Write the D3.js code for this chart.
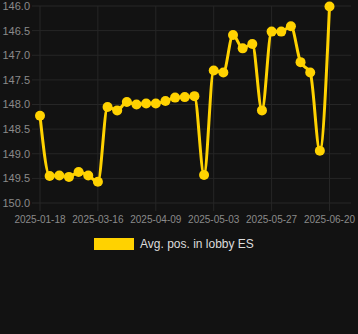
<!DOCTYPE html>
<html>
<head>
<meta charset="utf-8">
<script src="https://cdn.jsdelivr.net/npm/d3@7"></script>
<style>
  html, body { margin: 0; padding: 0; background: #121212; }
  svg { display: block; font-family: "Liberation Sans", Arial, sans-serif; }
</style>
</head>
<body>
<svg id="chart" width="358" height="334"></svg>
<script>
// dates on the category axis
const dates = [
  '2025-01-18', '2025-02-23', '2025-02-27', '2025-03-03', '2025-03-07', '2025-03-12',
  '2025-03-16', '2025-03-20', '2025-03-24', '2025-03-28', '2025-04-01', '2025-04-05',
  '2025-04-09', '2025-04-13', '2025-04-17', '2025-04-21', '2025-04-25', '2025-04-29',
  '2025-05-03', '2025-05-07', '2025-05-11', '2025-05-15', '2025-05-19', '2025-05-23',
  '2025-05-27', '2025-05-31', '2025-06-04', '2025-06-08', '2025-06-12', '2025-06-16',
  '2025-06-20'
];
const avgPos = [
  148.23, 149.45, 149.44, 149.47, 149.37, 149.44,
  149.57, 148.05, 148.12, 147.95, 148.00, 147.98,
  147.98, 147.93, 147.86, 147.85, 147.83, 149.43,
  147.31, 147.35, 146.59, 146.86, 146.77, 148.12,
  146.52, 146.52, 146.41, 147.14, 147.35, 148.94,
  146.01
];
const yTicks = [146.0, 146.5, 147.0, 147.5, 148.0, 148.5, 149.0, 149.5, 150.0];
const xTickEvery = 6;
const seriesName = 'Avg. pos. in lobby ES';

const lineColor = '#ffd200';
const gridColor = '#262626';
const tickColor = '#8a8a8a';

const svg = d3.select('#chart');
const area = { left: 40, right: 351, top: 6, bottom: 203 };

// two empty slots remain on the right of the category axis
const x = d3.scaleLinear().domain([0, dates.length + 1]).range([area.left, area.left + 9.65 * (dates.length + 1)]);
const y = d3.scaleLinear().domain([146, 150]).range([area.top, area.bottom]);

const grid = svg.append('g');
grid.selectAll('line.h')
  .data(yTicks)
  .join('line')
  .attr('class', 'h')
  .attr('x1', area.left - 8).attr('x2', area.right)
  .attr('y1', d => y(d)).attr('y2', d => y(d))
  .attr('stroke', gridColor);

const xTickIdx = d3.range(0, dates.length, xTickEvery);
grid.selectAll('line.v')
  .data(xTickIdx)
  .join('line')
  .attr('class', 'v')
  .attr('x1', d => x(d)).attr('x2', d => x(d))
  .attr('y1', area.top).attr('y2', area.bottom + 8)
  .attr('stroke', gridColor);

svg.append('g').selectAll('text')
  .data(yTicks)
  .join('text')
  .attr('x', 30)
  .attr('y', d => y(d))
  .attr('dy', '0.36em')
  .attr('text-anchor', 'end')
  .attr('fill', tickColor)
  .attr('font-size', 11)
  .text(d => d.toFixed(1));

svg.append('g').selectAll('text')
  .data(xTickIdx)
  .join('text')
  .attr('x', d => x(d))
  .attr('y', 223)
  .attr('text-anchor', 'middle')
  .attr('fill', tickColor)
  .attr('font-size', 10)
  .text(d => dates[d]);

const line = d3.line()
  .x((d, i) => x(i))
  .y(d => y(d))
  .curve(d3.curveMonotoneX);

svg.append('path')
  .datum(avgPos)
  .attr('d', line)
  .attr('fill', 'none')
  .attr('stroke', lineColor)
  .attr('stroke-width', 3);

svg.append('g').selectAll('circle')
  .data(avgPos)
  .join('circle')
  .attr('cx', (d, i) => x(i))
  .attr('cy', d => y(d))
  .attr('r', 5)
  .attr('fill', lineColor);

// legend
const legend = svg.append('g').attr('transform', 'translate(94,238)');
legend.append('rect')
  .attr('width', 40).attr('height', 12)
  .attr('fill', lineColor);
legend.append('text')
  .attr('x', 46).attr('y', 6)
  .attr('dy', '0.36em')
  .attr('fill', '#dcdcdc')
  .attr('font-size', 12)
  .text(seriesName);
</script>
</body>
</html>
